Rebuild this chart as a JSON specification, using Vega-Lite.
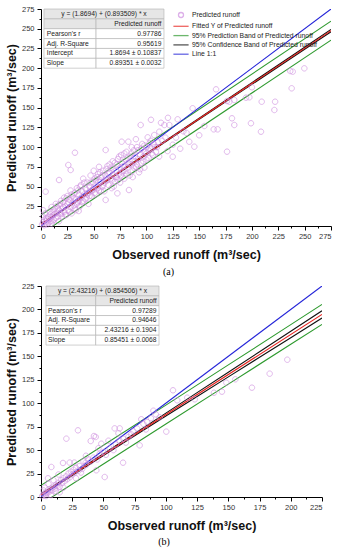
{
"$schema":"https://vega.github.io/schema/vega-lite/v6.json",
"background":"white",
"padding":{"left":5,"top":5,"right":4,"bottom":2},
"config":{
 "font":"Liberation Sans",
 "view":{"stroke":null},
 "axis":{"domainColor":"#000","tickColor":"#000","grid":false,"labelFontSize":7.5,"labelColor":"#333","titleFontSize":12.5,"titleFontWeight":"bold","titleColor":"#111","labelFont":"Liberation Sans","titleFont":"Liberation Sans","domainWidth":1,"tickWidth":1},
 "text":{"font":"Liberation Sans","fontSize":6.7,"color":"#222","baseline":"middle"}
},
"datasets":{
 "ptsA":[
 {"s":"Predicted runoff","x":1,"y":2},{"s":"Predicted runoff","x":2,"y":5},{"s":"Predicted runoff","x":3,"y":1},{"s":"Predicted runoff","x":3,"y":8},{"s":"Predicted runoff","x":4,"y":3},{"s":"Predicted runoff","x":5,"y":10},{"s":"Predicted runoff","x":5,"y":6},{"s":"Predicted runoff","x":6,"y":2},{"s":"Predicted runoff","x":7,"y":12},{"s":"Predicted runoff","x":7,"y":4},{"s":"Predicted runoff","x":8,"y":9},{"s":"Predicted runoff","x":9,"y":15},{"s":"Predicted runoff","x":9,"y":6},{"s":"Predicted runoff","x":10,"y":3},{"s":"Predicted runoff","x":10,"y":11},{"s":"Predicted runoff","x":11,"y":18},{"s":"Predicted runoff","x":12,"y":8},{"s":"Predicted runoff","x":12,"y":14},{"s":"Predicted runoff","x":13,"y":22},{"s":"Predicted runoff","x":14,"y":10},{"s":"Predicted runoff","x":15,"y":17},{"s":"Predicted runoff","x":15,"y":25},{"s":"Predicted runoff","x":16,"y":12},{"s":"Predicted runoff","x":17,"y":20},{"s":"Predicted runoff","x":17,"y":6},{"s":"Predicted runoff","x":18,"y":28},{"s":"Predicted runoff","x":19,"y":15},{"s":"Predicted runoff","x":20,"y":22},{"s":"Predicted runoff","x":20,"y":12},{"s":"Predicted runoff","x":21,"y":30},{"s":"Predicted runoff","x":22,"y":18},{"s":"Predicted runoff","x":23,"y":25},{"s":"Predicted runoff","x":24,"y":14},{"s":"Predicted runoff","x":24,"y":35},{"s":"Predicted runoff","x":25,"y":28},{"s":"Predicted runoff","x":26,"y":20},{"s":"Predicted runoff","x":27,"y":33},{"s":"Predicted runoff","x":28,"y":24},{"s":"Predicted runoff","x":28,"y":45},{"s":"Predicted runoff","x":29,"y":16},{"s":"Predicted runoff","x":30,"y":30},{"s":"Predicted runoff","x":30,"y":38},{"s":"Predicted runoff","x":31,"y":26},{"s":"Predicted runoff","x":32,"y":42},{"s":"Predicted runoff","x":33,"y":34},{"s":"Predicted runoff","x":33,"y":20},{"s":"Predicted runoff","x":34,"y":48},{"s":"Predicted runoff","x":35,"y":30},{"s":"Predicted runoff","x":36,"y":40},{"s":"Predicted runoff","x":37,"y":25},{"s":"Predicted runoff","x":38,"y":36},{"s":"Predicted runoff","x":38,"y":52},{"s":"Predicted runoff","x":39,"y":44},{"s":"Predicted runoff","x":40,"y":32},{"s":"Predicted runoff","x":40,"y":60},{"s":"Predicted runoff","x":41,"y":40},{"s":"Predicted runoff","x":42,"y":48},{"s":"Predicted runoff","x":43,"y":36},{"s":"Predicted runoff","x":44,"y":55},{"s":"Predicted runoff","x":45,"y":42},{"s":"Predicted runoff","x":45,"y":28},{"s":"Predicted runoff","x":46,"y":50},{"s":"Predicted runoff","x":47,"y":64},{"s":"Predicted runoff","x":48,"y":45},{"s":"Predicted runoff","x":48,"y":38},{"s":"Predicted runoff","x":49,"y":56},{"s":"Predicted runoff","x":50,"y":48},{"s":"Predicted runoff","x":50,"y":70},{"s":"Predicted runoff","x":51,"y":42},{"s":"Predicted runoff","x":52,"y":58},{"s":"Predicted runoff","x":53,"y":50},{"s":"Predicted runoff","x":54,"y":66},{"s":"Predicted runoff","x":55,"y":45},{"s":"Predicted runoff","x":55,"y":75},{"s":"Predicted runoff","x":56,"y":56},{"s":"Predicted runoff","x":57,"y":62},{"s":"Predicted runoff","x":58,"y":50},{"s":"Predicted runoff","x":59,"y":70},{"s":"Predicted runoff","x":60,"y":55},{"s":"Predicted runoff","x":60,"y":44},{"s":"Predicted runoff","x":61,"y":64},{"s":"Predicted runoff","x":62,"y":72},{"s":"Predicted runoff","x":63,"y":58},{"s":"Predicted runoff","x":64,"y":52},{"s":"Predicted runoff","x":65,"y":68},{"s":"Predicted runoff","x":65,"y":78},{"s":"Predicted runoff","x":66,"y":60},{"s":"Predicted runoff","x":67,"y":48},{"s":"Predicted runoff","x":68,"y":72},{"s":"Predicted runoff","x":69,"y":64},{"s":"Predicted runoff","x":70,"y":80},{"s":"Predicted runoff","x":70,"y":56},{"s":"Predicted runoff","x":71,"y":70},{"s":"Predicted runoff","x":72,"y":62},{"s":"Predicted runoff","x":73,"y":85},{"s":"Predicted runoff","x":74,"y":66},{"s":"Predicted runoff","x":75,"y":74},{"s":"Predicted runoff","x":75,"y":55},{"s":"Predicted runoff","x":76,"y":90},{"s":"Predicted runoff","x":77,"y":68},{"s":"Predicted runoff","x":78,"y":76},{"s":"Predicted runoff","x":79,"y":60},{"s":"Predicted runoff","x":80,"y":84},{"s":"Predicted runoff","x":80,"y":70},{"s":"Predicted runoff","x":81,"y":94},{"s":"Predicted runoff","x":82,"y":74},{"s":"Predicted runoff","x":83,"y":80},{"s":"Predicted runoff","x":84,"y":64},{"s":"Predicted runoff","x":85,"y":88},{"s":"Predicted runoff","x":86,"y":78},{"s":"Predicted runoff","x":87,"y":70},{"s":"Predicted runoff","x":88,"y":96},{"s":"Predicted runoff","x":89,"y":82},{"s":"Predicted runoff","x":90,"y":75},{"s":"Predicted runoff","x":91,"y":100},{"s":"Predicted runoff","x":92,"y":85},{"s":"Predicted runoff","x":93,"y":68},{"s":"Predicted runoff","x":94,"y":90},{"s":"Predicted runoff","x":95,"y":80},{"s":"Predicted runoff","x":96,"y":104},{"s":"Predicted runoff","x":97,"y":88},{"s":"Predicted runoff","x":98,"y":74},{"s":"Predicted runoff","x":99,"y":94},{"s":"Predicted runoff","x":100,"y":84},{"s":"Predicted runoff","x":102,"y":96},{"s":"Predicted runoff","x":104,"y":108},{"s":"Predicted runoff","x":106,"y":90},{"s":"Predicted runoff","x":108,"y":100},
 {"s":"Predicted runoff","x":2,"y":12},{"s":"Predicted runoff","x":4,"y":16},{"s":"Predicted runoff","x":6,"y":9},{"s":"Predicted runoff","x":8,"y":18},{"s":"Predicted runoff","x":10,"y":24},{"s":"Predicted runoff","x":11,"y":6},{"s":"Predicted runoff","x":13,"y":15},{"s":"Predicted runoff","x":14,"y":28},{"s":"Predicted runoff","x":16,"y":22},{"s":"Predicted runoff","x":18,"y":16},{"s":"Predicted runoff","x":19,"y":32},{"s":"Predicted runoff","x":21,"y":24},{"s":"Predicted runoff","x":22,"y":36},{"s":"Predicted runoff","x":23,"y":14},{"s":"Predicted runoff","x":25,"y":38},{"s":"Predicted runoff","x":26,"y":30},{"s":"Predicted runoff","x":27,"y":18},{"s":"Predicted runoff","x":29,"y":40},{"s":"Predicted runoff","x":31,"y":35},{"s":"Predicted runoff","x":32,"y":22},{"s":"Predicted runoff","x":34,"y":28},{"s":"Predicted runoff","x":35,"y":45},{"s":"Predicted runoff","x":36,"y":32},{"s":"Predicted runoff","x":37,"y":50},{"s":"Predicted runoff","x":39,"y":30},{"s":"Predicted runoff","x":41,"y":55},{"s":"Predicted runoff","x":42,"y":34},{"s":"Predicted runoff","x":43,"y":46},{"s":"Predicted runoff","x":44,"y":40},{"s":"Predicted runoff","x":46,"y":38},{"s":"Predicted runoff","x":47,"y":55},{"s":"Predicted runoff","x":49,"y":46},{"s":"Predicted runoff","x":51,"y":60},{"s":"Predicted runoff","x":52,"y":40},{"s":"Predicted runoff","x":53,"y":62},{"s":"Predicted runoff","x":54,"y":48},{"s":"Predicted runoff","x":56,"y":68},{"s":"Predicted runoff","x":57,"y":44},{"s":"Predicted runoff","x":58,"y":64},{"s":"Predicted runoff","x":59,"y":52},{"s":"Predicted runoff","x":62,"y":58},{"s":"Predicted runoff","x":63,"y":76},{"s":"Predicted runoff","x":64,"y":66},{"s":"Predicted runoff","x":66,"y":74},{"s":"Predicted runoff","x":67,"y":58},{"s":"Predicted runoff","x":68,"y":82},{"s":"Predicted runoff","x":69,"y":50},{"s":"Predicted runoff","x":71,"y":62},{"s":"Predicted runoff","x":72,"y":78},{"s":"Predicted runoff","x":73,"y":58},{"s":"Predicted runoff","x":74,"y":88},{"s":"Predicted runoff","x":76,"y":64},{"s":"Predicted runoff","x":77,"y":80},{"s":"Predicted runoff","x":78,"y":70},{"s":"Predicted runoff","x":79,"y":92},{"s":"Predicted runoff","x":81,"y":66},{"s":"Predicted runoff","x":82,"y":86},{"s":"Predicted runoff","x":84,"y":78},{"s":"Predicted runoff","x":86,"y":92},{"s":"Predicted runoff","x":87,"y":62},{"s":"Predicted runoff","x":88,"y":74},{"s":"Predicted runoff","x":89,"y":88},{"s":"Predicted runoff","x":91,"y":78},{"s":"Predicted runoff","x":92,"y":96},{"s":"Predicted runoff","x":94,"y":72},{"s":"Predicted runoff","x":95,"y":98},{"s":"Predicted runoff","x":97,"y":82},{"s":"Predicted runoff","x":98,"y":102},{"s":"Predicted runoff","x":100,"y":92},{"s":"Predicted runoff","x":102,"y":86},{"s":"Predicted runoff","x":104,"y":98},{"s":"Predicted runoff","x":107,"y":104},{"s":"Predicted runoff","x":109,"y":94},{"s":"Predicted runoff","x":111,"y":106},
 {"s":"Predicted runoff","x":32.2,"y":92.9},{"s":"Predicted runoff","x":61.3,"y":96.3},{"s":"Predicted runoff","x":25.9,"y":77.3},{"s":"Predicted runoff","x":28.1,"y":71},{"s":"Predicted runoff","x":17.1,"y":58.3},{"s":"Predicted runoff","x":4.4,"y":43.5},{"s":"Predicted runoff","x":76.5,"y":106.8},{"s":"Predicted runoff","x":82.8,"y":106.8},{"s":"Predicted runoff","x":94.5,"y":128},{"s":"Predicted runoff","x":61.3,"y":33},{"s":"Predicted runoff","x":72.4,"y":41.4},{"s":"Predicted runoff","x":83.4,"y":45.6},{"s":"Predicted runoff","x":35.7,"y":19},{"s":"Predicted runoff","x":2,"y":20},
 {"s":"Predicted runoff","x":236.4,"y":196.4},{"s":"Predicted runoff","x":238.7,"y":195.6},{"s":"Predicted runoff","x":249.7,"y":199.8},{"s":"Predicted runoff","x":237.7,"y":174.5},{"s":"Predicted runoff","x":166,"y":173.2},{"s":"Predicted runoff","x":200,"y":175.8},{"s":"Predicted runoff","x":194.4,"y":162.6},{"s":"Predicted runoff","x":197.6,"y":163.1},{"s":"Predicted runoff","x":209.3,"y":157.5},{"s":"Predicted runoff","x":222,"y":157.5},{"s":"Predicted runoff","x":221.3,"y":147},{"s":"Predicted runoff","x":183.3,"y":159.7},{"s":"Predicted runoff","x":176.4,"y":158.4},{"s":"Predicted runoff","x":178.6,"y":157.5},{"s":"Predicted runoff","x":181.1,"y":136.5},{"s":"Predicted runoff","x":183.3,"y":128},{"s":"Predicted runoff","x":199.1,"y":130.2},{"s":"Predicted runoff","x":163.8,"y":122.5},{"s":"Predicted runoff","x":167.5,"y":122.5},{"s":"Predicted runoff","x":208.6,"y":119.5},{"s":"Predicted runoff","x":154.9,"y":126.7},{"s":"Predicted runoff","x":129.6,"y":135.2},{"s":"Predicted runoff","x":143.8,"y":149.2},{"s":"Predicted runoff","x":121.7,"y":128},{"s":"Predicted runoff","x":117,"y":128},{"s":"Predicted runoff","x":112.2,"y":119.5},{"s":"Predicted runoff","x":107.4,"y":115.3},{"s":"Predicted runoff","x":101.2,"y":112.4},{"s":"Predicted runoff","x":124.9,"y":87.8},{"s":"Predicted runoff","x":176.4,"y":94.2},{"s":"Predicted runoff","x":140.6,"y":106.8},{"s":"Predicted runoff","x":145.4,"y":100.5},
 {"s":"Predicted runoff","x":110,"y":100},{"s":"Predicted runoff","x":115,"y":108},{"s":"Predicted runoff","x":120,"y":95},{"s":"Predicted runoff","x":125,"y":103},{"s":"Predicted runoff","x":128,"y":112},{"s":"Predicted runoff","x":135,"y":120},{"s":"Predicted runoff","x":138,"y":118},{"s":"Predicted runoff","x":150,"y":115},{"s":"Predicted runoff","x":105,"y":92},{"s":"Predicted runoff","x":112,"y":88},{"s":"Predicted runoff","x":118,"y":112},{"s":"Predicted runoff","x":132,"y":98},{"s":"Predicted runoff","x":100,"y":100},{"s":"Predicted runoff","x":103,"y":105},{"s":"Predicted runoff","x":90,"y":110},{"s":"Predicted runoff","x":86,"y":100},{"s":"Predicted runoff","x":104.3,"y":134.6},{"s":"Predicted runoff","x":113.8,"y":130.8},{"s":"Predicted runoff","x":120.4,"y":137.1}
 ],
 "linesA":[
 {"g":"pu","s":"95% Prediction Band of Predicted runoff","x":0,"y":13.9},{"g":"pu","s":"95% Prediction Band of Predicted runoff","x":275,"y":259.6},
 {"g":"pl","s":"95% Prediction Band of Predicted runoff","x":0,"y":-10.1},{"g":"pl","s":"95% Prediction Band of Predicted runoff","x":275,"y":235.6},
 {"g":"cu","s":"95% Confidence Band of Predicted runoff","x":0,"y":2.44},{"g":"cu","s":"95% Confidence Band of Predicted runoff","x":50,"y":47.04},{"g":"cu","s":"95% Confidence Band of Predicted runoff","x":100,"y":91.82},{"g":"cu","s":"95% Confidence Band of Predicted runoff","x":150,"y":136.72},{"g":"cu","s":"95% Confidence Band of Predicted runoff","x":200,"y":181.65},{"g":"cu","s":"95% Confidence Band of Predicted runoff","x":250,"y":226.61},{"g":"cu","s":"95% Confidence Band of Predicted runoff","x":275,"y":249.09},
 {"g":"cl","s":"95% Confidence Band of Predicted runoff","x":0,"y":1.30},{"g":"cl","s":"95% Confidence Band of Predicted runoff","x":50,"y":46.04},{"g":"cl","s":"95% Confidence Band of Predicted runoff","x":100,"y":90.62},{"g":"cl","s":"95% Confidence Band of Predicted runoff","x":150,"y":135.08},{"g":"cl","s":"95% Confidence Band of Predicted runoff","x":200,"y":179.49},{"g":"cl","s":"95% Confidence Band of Predicted runoff","x":250,"y":223.89},{"g":"cl","s":"95% Confidence Band of Predicted runoff","x":275,"y":246.09},
 {"g":"fit","s":"Fitted Y of Predicted runoff","x":0,"y":1.87},{"g":"fit","s":"Fitted Y of Predicted runoff","x":275,"y":247.59},
 {"g":"one","s":"Line 1:1","x":0,"y":0},{"g":"one","s":"Line 1:1","x":275,"y":275}
 ],
 "cellsA":[
 {"k":"head","x1":2.8,"x2":116.6,"y1":262.5,"y2":275},
 {"k":"head","x1":2.8,"x2":52.2,"y1":250,"y2":262.5},{"k":"head","x1":52.2,"x2":116.6,"y1":250,"y2":262.5},
 {"k":"body","x1":2.8,"x2":52.2,"y1":237.5,"y2":250},{"k":"body","x1":52.2,"x2":116.6,"y1":237.5,"y2":250},
 {"k":"body","x1":2.8,"x2":52.2,"y1":225,"y2":237.5},{"k":"body","x1":52.2,"x2":116.6,"y1":225,"y2":237.5},
 {"k":"body","x1":2.8,"x2":52.2,"y1":212.5,"y2":225},{"k":"body","x1":52.2,"x2":116.6,"y1":212.5,"y2":225},
 {"k":"body","x1":2.8,"x2":52.2,"y1":200,"y2":212.5},{"k":"body","x1":52.2,"x2":116.6,"y1":200,"y2":212.5}
 ],
 "textA":[
 {"a":"c","x":59.7,"y":268.75,"t":"y = (1.8694) + (0.893509) * x"},
 {"a":"r","x":114.2,"y":256.25,"t":"Predicted runoff"},
 {"a":"l","x":5.5,"y":243.75,"t":"Pearson's r"},{"a":"r","x":114.2,"y":243.75,"t":"0.97786"},
 {"a":"l","x":5.5,"y":231.25,"t":"Adj. R-Square"},{"a":"r","x":114.2,"y":231.25,"t":"0.95619"},
 {"a":"l","x":5.5,"y":218.75,"t":"Intercept"},{"a":"r","x":114.2,"y":218.75,"t":"1.8694 ± 0.10837"},
 {"a":"l","x":5.5,"y":206.25,"t":"Slope"},{"a":"r","x":114.2,"y":206.25,"t":"0.89351 ± 0.0032"}
 ],
 "ptsB":[
 {"s":"Predicted runoff","x":59,"y":73.2},{"s":"Predicted runoff","x":63,"y":73.2},{"s":"Predicted runoff","x":29.6,"y":71.1},{"s":"Predicted runoff","x":42.4,"y":65},{"s":"Predicted runoff","x":43.8,"y":64},{"s":"Predicted runoff","x":20.3,"y":62.2},{"s":"Predicted runoff","x":39.8,"y":59.7},{"s":"Predicted runoff","x":48.3,"y":56.8},{"s":"Predicted runoff","x":100.3,"y":69.7},{"s":"Predicted runoff","x":79,"y":55.1},{"s":"Predicted runoff","x":65.7,"y":36.6},{"s":"Predicted runoff","x":51,"y":21.3},{"s":"Predicted runoff","x":8.3,"y":32},{"s":"Predicted runoff","x":5.6,"y":20},{"s":"Predicted runoff","x":44.3,"y":28.5},{"s":"Predicted runoff","x":17.6,"y":36.3},{"s":"Predicted runoff","x":23,"y":36.7},{"s":"Predicted runoff","x":26.7,"y":36.7},{"s":"Predicted runoff","x":35.8,"y":36.6},{"s":"Predicted runoff","x":72.3,"y":66.8},{"s":"Predicted runoff","x":197.2,"y":146.4},{"s":"Predicted runoff","x":183.1,"y":131.5},{"s":"Predicted runoff","x":168.9,"y":116.6},{"s":"Predicted runoff","x":155.6,"y":125.5},{"s":"Predicted runoff","x":148.4,"y":121.9},{"s":"Predicted runoff","x":144.9,"y":112.3},{"s":"Predicted runoff","x":138.5,"y":111.2},{"s":"Predicted runoff","x":105.7,"y":113.8},{"s":"Predicted runoff","x":117.1,"y":105.9},{"s":"Predicted runoff","x":123.1,"y":104.2},{"s":"Predicted runoff","x":109.1,"y":103.1},{"s":"Predicted runoff","x":80.3,"y":82.9},
 {"s":"Predicted runoff","x":1,"y":1},{"s":"Predicted runoff","x":2,"y":3},{"s":"Predicted runoff","x":3,"y":2},{"s":"Predicted runoff","x":4,"y":5},{"s":"Predicted runoff","x":5,"y":4},{"s":"Predicted runoff","x":6,"y":8},{"s":"Predicted runoff","x":7,"y":6},{"s":"Predicted runoff","x":8,"y":9},{"s":"Predicted runoff","x":9,"y":7},{"s":"Predicted runoff","x":10,"y":11},{"s":"Predicted runoff","x":11,"y":9},{"s":"Predicted runoff","x":12,"y":13},{"s":"Predicted runoff","x":13,"y":12},{"s":"Predicted runoff","x":14,"y":15},{"s":"Predicted runoff","x":15,"y":11},{"s":"Predicted runoff","x":16,"y":18},{"s":"Predicted runoff","x":17,"y":15},{"s":"Predicted runoff","x":18,"y":20},{"s":"Predicted runoff","x":19,"y":17},{"s":"Predicted runoff","x":20,"y":22},{"s":"Predicted runoff","x":21,"y":19},{"s":"Predicted runoff","x":22,"y":25},{"s":"Predicted runoff","x":23,"y":21},{"s":"Predicted runoff","x":24,"y":27},{"s":"Predicted runoff","x":25,"y":24},{"s":"Predicted runoff","x":26,"y":29},{"s":"Predicted runoff","x":27,"y":26},{"s":"Predicted runoff","x":28,"y":31},{"s":"Predicted runoff","x":30,"y":28},{"s":"Predicted runoff","x":31,"y":33},{"s":"Predicted runoff","x":33,"y":30},{"s":"Predicted runoff","x":34,"y":38},{"s":"Predicted runoff","x":36,"y":34},{"s":"Predicted runoff","x":38,"y":40},{"s":"Predicted runoff","x":40,"y":38},{"s":"Predicted runoff","x":42,"y":42},{"s":"Predicted runoff","x":45,"y":40},{"s":"Predicted runoff","x":47,"y":46},{"s":"Predicted runoff","x":50,"y":48},{"s":"Predicted runoff","x":52,"y":45},{"s":"Predicted runoff","x":55,"y":52},{"s":"Predicted runoff","x":58,"y":50},{"s":"Predicted runoff","x":60,"y":56},{"s":"Predicted runoff","x":63,"y":60},{"s":"Predicted runoff","x":66,"y":62},{"s":"Predicted runoff","x":70,"y":64},{"s":"Predicted runoff","x":74,"y":70},{"s":"Predicted runoff","x":77,"y":73},{"s":"Predicted runoff","x":82,"y":78},{"s":"Predicted runoff","x":85,"y":80},{"s":"Predicted runoff","x":88,"y":84},{"s":"Predicted runoff","x":92,"y":88},{"s":"Predicted runoff","x":95,"y":85},{"s":"Predicted runoff","x":3,"y":10},{"s":"Predicted runoff","x":6,"y":14},{"s":"Predicted runoff","x":10,"y":18},{"s":"Predicted runoff","x":12,"y":6},{"s":"Predicted runoff","x":15,"y":5},{"s":"Predicted runoff","x":8,"y":2},{"s":"Predicted runoff","x":2,"y":7},{"s":"Predicted runoff","x":4,"y":1},{"s":"Predicted runoff","x":14,"y":24},{"s":"Predicted runoff","x":18,"y":10},{"s":"Predicted runoff","x":28,"y":20},{"s":"Predicted runoff","x":32,"y":26},{"s":"Predicted runoff","x":36,"y":44},{"s":"Predicted runoff","x":46,"y":52},{"s":"Predicted runoff","x":54,"y":60},{"s":"Predicted runoff","x":62,"y":68},{"s":"Predicted runoff","x":68,"y":58},{"s":"Predicted runoff","x":84,"y":72},{"s":"Predicted runoff","x":90,"y":92}
 ],
 "linesB":[
 {"g":"pu","s":"95% Prediction Band of Predicted runoff","x":0,"y":12.43},{"g":"pu","s":"95% Prediction Band of Predicted runoff","x":50,"y":55.15},{"g":"pu","s":"95% Prediction Band of Predicted runoff","x":100,"y":97.95},{"g":"pu","s":"95% Prediction Band of Predicted runoff","x":150,"y":140.86},{"g":"pu","s":"95% Prediction Band of Predicted runoff","x":200,"y":183.85},{"g":"pu","s":"95% Prediction Band of Predicted runoff","x":225,"y":205.38},
 {"g":"pl","s":"95% Prediction Band of Predicted runoff","x":0,"y":-7.57},{"g":"pl","s":"95% Prediction Band of Predicted runoff","x":50,"y":35.17},{"g":"pl","s":"95% Prediction Band of Predicted runoff","x":100,"y":77.81},{"g":"pl","s":"95% Prediction Band of Predicted runoff","x":150,"y":120.36},{"g":"pl","s":"95% Prediction Band of Predicted runoff","x":200,"y":162.81},{"g":"pl","s":"95% Prediction Band of Predicted runoff","x":225,"y":184.0},
 {"g":"cu","s":"95% Confidence Band of Predicted runoff","x":0,"y":3.42},{"g":"cu","s":"95% Confidence Band of Predicted runoff","x":25,"y":24.61},{"g":"cu","s":"95% Confidence Band of Predicted runoff","x":50,"y":46.05},{"g":"cu","s":"95% Confidence Band of Predicted runoff","x":75,"y":67.71},{"g":"cu","s":"95% Confidence Band of Predicted runoff","x":100,"y":89.47},{"g":"cu","s":"95% Confidence Band of Predicted runoff","x":125,"y":111.27},{"g":"cu","s":"95% Confidence Band of Predicted runoff","x":150,"y":133.09},{"g":"cu","s":"95% Confidence Band of Predicted runoff","x":175,"y":154.92},{"g":"cu","s":"95% Confidence Band of Predicted runoff","x":200,"y":176.75},{"g":"cu","s":"95% Confidence Band of Predicted runoff","x":225,"y":198.59},
 {"g":"cl","s":"95% Confidence Band of Predicted runoff","x":0,"y":1.44},{"g":"cl","s":"95% Confidence Band of Predicted runoff","x":25,"y":23.00},{"g":"cl","s":"95% Confidence Band of Predicted runoff","x":50,"y":44.27},{"g":"cl","s":"95% Confidence Band of Predicted runoff","x":75,"y":65.33},{"g":"cl","s":"95% Confidence Band of Predicted runoff","x":100,"y":86.30},{"g":"cl","s":"95% Confidence Band of Predicted runoff","x":125,"y":107.22},{"g":"cl","s":"95% Confidence Band of Predicted runoff","x":150,"y":128.13},{"g":"cl","s":"95% Confidence Band of Predicted runoff","x":175,"y":149.02},{"g":"cl","s":"95% Confidence Band of Predicted runoff","x":200,"y":169.91},{"g":"cl","s":"95% Confidence Band of Predicted runoff","x":225,"y":190.79},
 {"g":"fit","s":"Fitted Y of Predicted runoff","x":0,"y":2.43},{"g":"fit","s":"Fitted Y of Predicted runoff","x":225,"y":194.69},
 {"g":"one","s":"Line 1:1","x":0,"y":0},{"g":"one","s":"Line 1:1","x":225,"y":225}
 ],
 "cellsB":[
 {"k":"head","x1":4,"x2":94.5,"y1":214.5,"y2":225},
 {"k":"head","x1":4,"x2":43.8,"y1":204,"y2":214.5},{"k":"head","x1":43.8,"x2":94.5,"y1":204,"y2":214.5},
 {"k":"body","x1":4,"x2":43.8,"y1":193.5,"y2":204},{"k":"body","x1":43.8,"x2":94.5,"y1":193.5,"y2":204},
 {"k":"body","x1":4,"x2":43.8,"y1":183,"y2":193.5},{"k":"body","x1":43.8,"x2":94.5,"y1":183,"y2":193.5},
 {"k":"body","x1":4,"x2":43.8,"y1":172.5,"y2":183},{"k":"body","x1":43.8,"x2":94.5,"y1":172.5,"y2":183},
 {"k":"body","x1":4,"x2":43.8,"y1":162,"y2":172.5},{"k":"body","x1":43.8,"x2":94.5,"y1":162,"y2":172.5}
 ],
 "textB":[
 {"a":"c","x":49.25,"y":219.75,"t":"y = (2.43216) + (0.854506) * x"},
 {"a":"r","x":92.5,"y":209.25,"t":"Predicted runoff"},
 {"a":"l","x":5.6,"y":198.75,"t":"Pearson's r"},{"a":"r","x":92.5,"y":198.75,"t":"0.97289"},
 {"a":"l","x":5.6,"y":188.25,"t":"Adj. R-Square"},{"a":"r","x":92.5,"y":188.25,"t":"0.94646"},
 {"a":"l","x":5.6,"y":177.75,"t":"Intercept"},{"a":"r","x":92.5,"y":177.75,"t":"2.43216 ± 0.1904"},
 {"a":"l","x":5.6,"y":167.25,"t":"Slope"},{"a":"r","x":92.5,"y":167.25,"t":"0.85451 ± 0.0068"}
 ]
},
"spacing":5,
"vconcat":[
 {
  "width":290,"height":217,
  "title":{"text":"(a)","orient":"bottom","font":"Liberation Serif","fontSize":10,"fontWeight":"normal","anchor":"middle","frame":"bounds","offset":6,"color":"#000"},
  "resolve":{"axis":{"x":"independent","y":"independent"}},
  "layer":[
   {"data":{"name":"cellsA"},"mark":{"type":"rect","stroke":"#b0b0b0","strokeWidth":0.6},
    "encoding":{"x":{"field":"x1","type":"quantitative","axis":null},"x2":{"field":"x2"},"y":{"field":"y1","type":"quantitative","axis":null},"y2":{"field":"y2"},
     "fill":{"field":"k","type":"nominal","scale":{"domain":["head","body"],"range":["#e6e6e6","#ffffff"]},"legend":null}}},
   {"data":{"name":"textA"},"transform":[{"filter":"datum.a == 'c'"}],"mark":{"type":"text","align":"center"},
    "encoding":{"x":{"field":"x","type":"quantitative","axis":null},"y":{"field":"y","type":"quantitative","axis":null},"text":{"field":"t"}}},
   {"data":{"name":"textA"},"transform":[{"filter":"datum.a == 'l'"}],"mark":{"type":"text","align":"left"},
    "encoding":{"x":{"field":"x","type":"quantitative","axis":null},"y":{"field":"y","type":"quantitative","axis":null},"text":{"field":"t"}}},
   {"data":{"name":"textA"},"transform":[{"filter":"datum.a == 'r'"}],"mark":{"type":"text","align":"right"},
    "encoding":{"x":{"field":"x","type":"quantitative","axis":null},"y":{"field":"y","type":"quantitative","axis":null},"text":{"field":"t"}}},
   {"data":{"name":"linesA"},"mark":{"type":"line","clip":true,"strokeWidth":1.1},
    "encoding":{"x":{"field":"x","type":"quantitative","axis":{"values":[12.5,37.5,62.5,87.5,112.5,137.5,162.5,187.5,212.5,237.5,262.5],"labels":false,"domain":false,"tickSize":2,"title":null,"orient":"bottom"}},
     "y":{"field":"y","type":"quantitative","axis":{"values":[12.5,37.5,62.5,87.5,112.5,137.5,162.5,187.5,212.5,237.5,262.5],"labels":false,"domain":false,"tickSize":2,"title":null,"orient":"left"}},
     "detail":{"field":"g"},
     "color":{"field":"s","type":"nominal","scale":{"domain":["Predicted runoff","Fitted Y of Predicted runoff","95% Prediction Band of Predicted runoff","95% Confidence Band of Predicted runoff","Line 1:1"],"range":["#cf8fe0","#e8231f","#2e9a2e","#111111","#2424d8"]},
      "legend":{"orient":"none","legendX":135,"legendY":1,"title":null,"labelFontSize":6.8,"labelColor":"#222","symbolSize":64,"symbolStrokeWidth":1.3,"rowPadding":0.3,"labelOffset":6,"labelLimit":250,"padding":0}}}},
   {"data":{"name":"ptsA"},"mark":{"type":"point","filled":false,"strokeWidth":0.9,"size":77},
    "encoding":{"x":{"field":"x","type":"quantitative","scale":{"domain":[0,275],"nice":false},"axis":{"values":[0,25,50,75,100,125,150,175,200,225,250,275],"title":"Observed runoff (m³/sec)","tickSize":4,"labelPadding":2,"titlePadding":9,"orient":"bottom"}},
     "y":{"field":"y","type":"quantitative","scale":{"domain":[0,275],"nice":false},"axis":{"values":[0,25,50,75,100,125,150,175,200,225,250,275],"title":"Predicted runoff (m³/sec)","tickSize":4,"labelPadding":3,"titlePadding":3,"orient":"left"}},
     "color":{"field":"s","type":"nominal","scale":{"domain":["Predicted runoff","Fitted Y of Predicted runoff","95% Prediction Band of Predicted runoff","95% Confidence Band of Predicted runoff","Line 1:1"],"range":["#cf8fe0","#e8231f","#2e9a2e","#111111","#2424d8"]},
      "legend":{"orient":"none","legendX":135,"legendY":1,"title":null,"labelFontSize":6.8,"labelColor":"#222","symbolSize":64,"symbolStrokeWidth":1.3,"rowPadding":0.3,"labelOffset":6,"labelLimit":250,"padding":0}},
     "shape":{"field":"s","type":"nominal","scale":{"domain":["Predicted runoff","Fitted Y of Predicted runoff","95% Prediction Band of Predicted runoff","95% Confidence Band of Predicted runoff","Line 1:1"],"range":["M-0.625,0A0.625,0.625 0 1,0 0.625,0A0.625,0.625 0 1,0 -0.625,0Z","M-1.9,0H1.9","M-1.9,0H1.9","M-1.9,0H1.9","M-1.9,0H1.9"]},
      "legend":{"orient":"none","legendX":135,"legendY":1,"title":null,"labelFontSize":6.8,"labelColor":"#222","symbolSize":64,"symbolStrokeWidth":1.3,"rowPadding":0.3,"labelOffset":6,"labelLimit":250,"padding":0}}}}
  ]
 },
 {
  "width":281,"height":211,
  "title":{"text":"(b)","orient":"bottom","font":"Liberation Serif","fontSize":10,"fontWeight":"normal","anchor":"middle","frame":"bounds","offset":5,"color":"#000"},
  "resolve":{"axis":{"x":"independent","y":"independent"}},
  "layer":[
   {"data":{"name":"cellsB"},"mark":{"type":"rect","stroke":"#b0b0b0","strokeWidth":0.6},
    "encoding":{"x":{"field":"x1","type":"quantitative","axis":null},"x2":{"field":"x2"},"y":{"field":"y1","type":"quantitative","axis":null},"y2":{"field":"y2"},
     "fill":{"field":"k","type":"nominal","scale":{"domain":["head","body"],"range":["#e6e6e6","#ffffff"]},"legend":null}}},
   {"data":{"name":"textB"},"transform":[{"filter":"datum.a == 'c'"}],"mark":{"type":"text","align":"center"},
    "encoding":{"x":{"field":"x","type":"quantitative","axis":null},"y":{"field":"y","type":"quantitative","axis":null},"text":{"field":"t"}}},
   {"data":{"name":"textB"},"transform":[{"filter":"datum.a == 'l'"}],"mark":{"type":"text","align":"left"},
    "encoding":{"x":{"field":"x","type":"quantitative","axis":null},"y":{"field":"y","type":"quantitative","axis":null},"text":{"field":"t"}}},
   {"data":{"name":"textB"},"transform":[{"filter":"datum.a == 'r'"}],"mark":{"type":"text","align":"right"},
    "encoding":{"x":{"field":"x","type":"quantitative","axis":null},"y":{"field":"y","type":"quantitative","axis":null},"text":{"field":"t"}}},
   {"data":{"name":"linesB"},"mark":{"type":"line","clip":true,"strokeWidth":1.1},
    "encoding":{"x":{"field":"x","type":"quantitative","axis":{"values":[12.5,37.5,62.5,87.5,112.5,137.5,162.5,187.5,212.5],"labels":false,"domain":false,"tickSize":2,"title":null,"orient":"bottom"}},
     "y":{"field":"y","type":"quantitative","axis":{"values":[12.5,37.5,62.5,87.5,112.5,137.5,162.5,187.5,212.5],"labels":false,"domain":false,"tickSize":2,"title":null,"orient":"left"}},
     "detail":{"field":"g"},
     "color":{"field":"s","type":"nominal","scale":{"domain":["Predicted runoff","Fitted Y of Predicted runoff","95% Prediction Band of Predicted runoff","95% Confidence Band of Predicted runoff","Line 1:1"],"range":["#cf8fe0","#e8231f","#2e9a2e","#111111","#2424d8"]},
      "legend":{"orient":"none","legendX":133,"legendY":1,"title":null,"labelFontSize":6.8,"labelColor":"#222","symbolSize":64,"symbolStrokeWidth":1.3,"rowPadding":0,"labelOffset":6,"labelLimit":250,"padding":0}}}},
   {"data":{"name":"ptsB"},"mark":{"type":"point","filled":false,"strokeWidth":0.9,"size":77},
    "encoding":{"x":{"field":"x","type":"quantitative","scale":{"domain":[0,225],"nice":false},"axis":{"values":[0,25,50,75,100,125,150,175,200,225],"title":"Observed runoff (m³/sec)","tickSize":4,"labelPadding":2,"titlePadding":9,"orient":"bottom"}},
     "y":{"field":"y","type":"quantitative","scale":{"domain":[0,225],"nice":false},"axis":{"values":[0,25,50,75,100,125,150,175,200,225],"title":"Predicted runoff (m³/sec)","tickSize":4,"labelPadding":3,"titlePadding":3,"orient":"left"}},
     "color":{"field":"s","type":"nominal","scale":{"domain":["Predicted runoff","Fitted Y of Predicted runoff","95% Prediction Band of Predicted runoff","95% Confidence Band of Predicted runoff","Line 1:1"],"range":["#cf8fe0","#e8231f","#2e9a2e","#111111","#2424d8"]},
      "legend":{"orient":"none","legendX":133,"legendY":1,"title":null,"labelFontSize":6.8,"labelColor":"#222","symbolSize":64,"symbolStrokeWidth":1.3,"rowPadding":0,"labelOffset":6,"labelLimit":250,"padding":0}},
     "shape":{"field":"s","type":"nominal","scale":{"domain":["Predicted runoff","Fitted Y of Predicted runoff","95% Prediction Band of Predicted runoff","95% Confidence Band of Predicted runoff","Line 1:1"],"range":["M-0.625,0A0.625,0.625 0 1,0 0.625,0A0.625,0.625 0 1,0 -0.625,0Z","M-1.9,0H1.9","M-1.9,0H1.9","M-1.9,0H1.9","M-1.9,0H1.9"]},
      "legend":{"orient":"none","legendX":133,"legendY":1,"title":null,"labelFontSize":6.8,"labelColor":"#222","symbolSize":64,"symbolStrokeWidth":1.3,"rowPadding":0,"labelOffset":6,"labelLimit":250,"padding":0}}}}
  ]
 }
]
}
